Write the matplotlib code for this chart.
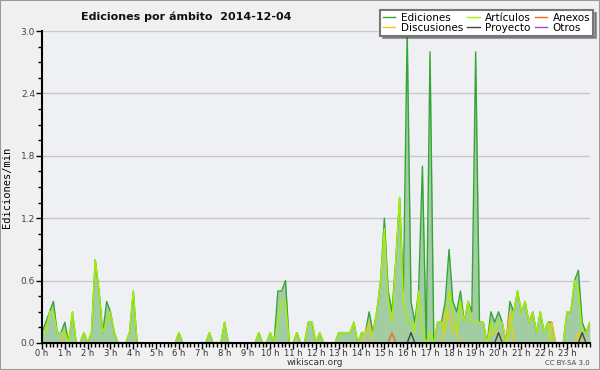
import numpy as np
import matplotlib
matplotlib.use('Agg')
import matplotlib.pyplot as plt
from matplotlib.ticker import MultipleLocator, FixedLocator
from matplotlib.patches import Rectangle

# edits per minute, one value every 10 minutes (0 h .. 24 h)
ediciones = [
    0.1, 0.2, 0.3, 0.4, 0.1, 0.1, 0.2, 0.0, 0.3, 0.0, 0.0, 0.1,
    0.0, 0.1, 0.8, 0.5, 0.1, 0.4, 0.3, 0.1, 0.0, 0.0, 0.0, 0.1,
    0.5, 0.0, 0.0, 0.0, 0.0, 0.0, 0.0, 0.0, 0.0, 0.0, 0.0, 0.0,
    0.1, 0.0, 0.0, 0.0, 0.0, 0.0, 0.0, 0.0, 0.1, 0.0, 0.0, 0.0,
    0.2, 0.0, 0.0, 0.0, 0.0, 0.0, 0.0, 0.0, 0.0, 0.1, 0.0, 0.0,
    0.1, 0.0, 0.5, 0.5, 0.6, 0.0, 0.0, 0.1, 0.0, 0.0, 0.2, 0.2,
    0.0, 0.1, 0.0, 0.0, 0.0, 0.0, 0.1, 0.1, 0.1, 0.1, 0.2, 0.0,
    0.1, 0.1, 0.3, 0.1, 0.3, 0.6, 1.2, 0.5, 0.3, 0.8, 1.4, 0.5,
    3.0, 0.4, 0.2, 0.5, 1.7, 0.0, 2.8, 0.0, 0.2, 0.2, 0.4, 0.9,
    0.4, 0.3, 0.5, 0.2, 0.4, 0.3, 2.8, 0.2, 0.2, 0.0, 0.3, 0.2,
    0.3, 0.2, 0.0, 0.4, 0.3, 0.5, 0.3, 0.4, 0.2, 0.3, 0.1, 0.3,
    0.1, 0.2, 0.2, 0.0, 0.0, 0.0, 0.3, 0.3, 0.6, 0.7, 0.2, 0.1,
    0.2,
]
articulos = [
    0.1, 0.1, 0.3, 0.3, 0.1, 0.1, 0.1, 0.0, 0.3, 0.0, 0.0, 0.1,
    0.0, 0.1, 0.8, 0.5, 0.1, 0.2, 0.3, 0.1, 0.0, 0.0, 0.0, 0.1,
    0.5, 0.0, 0.0, 0.0, 0.0, 0.0, 0.0, 0.0, 0.0, 0.0, 0.0, 0.0,
    0.1, 0.0, 0.0, 0.0, 0.0, 0.0, 0.0, 0.0, 0.1, 0.0, 0.0, 0.0,
    0.2, 0.0, 0.0, 0.0, 0.0, 0.0, 0.0, 0.0, 0.0, 0.1, 0.0, 0.0,
    0.1, 0.0, 0.2, 0.4, 0.4, 0.0, 0.0, 0.1, 0.0, 0.0, 0.2, 0.2,
    0.0, 0.1, 0.0, 0.0, 0.0, 0.0, 0.1, 0.1, 0.1, 0.1, 0.2, 0.0,
    0.1, 0.1, 0.1, 0.1, 0.3, 0.6, 1.1, 0.4, 0.2, 0.8, 1.4, 0.4,
    0.2, 0.2, 0.1, 0.5, 0.1, 0.0, 0.1, 0.0, 0.2, 0.2, 0.1, 0.5,
    0.3, 0.1, 0.4, 0.2, 0.4, 0.2, 0.2, 0.2, 0.2, 0.0, 0.2, 0.1,
    0.2, 0.2, 0.0, 0.1, 0.3, 0.5, 0.3, 0.4, 0.2, 0.3, 0.1, 0.3,
    0.1, 0.2, 0.0, 0.0, 0.0, 0.0, 0.3, 0.3, 0.6, 0.5, 0.1, 0.1,
    0.2,
]
discusiones = [0.0] * 145
for i, v in [(6, 0.1), (85, 0.1), (86, 0.2), (106, 0.3), (107, 0.3), (108, 0.1),
             (109, 0.1), (118, 0.1), (119, 0.1), (120, 0.1), (123, 0.3),
             (134, 0.2), (141, 0.1)]:
    discusiones[i] = v
anexos = [0.0] * 145
anexos[92] = 0.1
proyecto = [0.0] * 145
for i in [97, 120, 142]:
    proyecto[i] = 0.1
otros = [0.0] * 145

hours = np.arange(145) / 6.0
hour_labels = [f'{h} h' for h in range(24)]

fig = plt.figure(figsize=(6, 3.7), dpi=100, facecolor='#f0f0f0')
fig.patches.append(Rectangle((0, 0), 1, 1, transform=fig.transFigure, fill=False,
                             edgecolor='#9a9a9a', linewidth=1.5))
ax = fig.add_axes([0.07, 0.073, 0.913, 0.843])
ax.set_facecolor('#eef0f3')

ax.fill_between(hours, ediciones, color='#a2cda2', linewidth=0)
ax.plot(hours, ediciones, color='#35a535', lw=1, label='Ediciones')
ax.plot(hours, discusiones, color='#f5c518', lw=1, label='Discusiones')
ax.plot(hours, articulos, color='#aaee00', lw=1, label='Artículos')
ax.plot(hours, proyecto, color='#444444', lw=1, label='Proyecto')
ax.plot(hours, anexos, color='#ee6a2a', lw=1, label='Anexos')
ax.plot(hours, otros, color='#9944ee', lw=1, label='Otros')

ax.set_xlim(0, 24)
ax.set_ylim(0, 3.0)
ax.set_yticks([0.0, 0.6, 1.2, 1.8, 2.4, 3.0])
ax.yaxis.set_minor_locator(MultipleLocator(0.15))
ax.xaxis.set_major_locator(FixedLocator(range(24)))
ax.set_xticklabels(hour_labels)
ax.xaxis.set_minor_locator(MultipleLocator(1 / 6))
ax.grid(axis='y', color='#c8c8c8', lw=1)
ax.set_axisbelow(True)
for s in ['top', 'right']:
    ax.spines[s].set_visible(False)
for s in ['left', 'bottom']:
    ax.spines[s].set_linewidth(1.5)
    ax.spines[s].set_zorder(5)
ax.tick_params(axis='y', labelsize=6.5, labelcolor='#444444', length=4, width=1, pad=1)
ax.tick_params(axis='x', labelsize=6, labelcolor='#333333', length=4, width=1, pad=0.5)
ax.tick_params(which='minor', length=3, width=1)
ax.set_ylabel('Ediciones/min', family='DejaVu Sans Mono', fontsize=7.5, labelpad=6)

leg = fig.legend(loc='upper right', bbox_to_anchor=(0.988, 0.972), ncol=3, fontsize=7.5,
                 frameon=True, fancybox=False, shadow=True, handlelength=1.2,
                 handletextpad=0.5, columnspacing=0.4, labelspacing=0.0,
                 borderpad=0.25, borderaxespad=0)
leg.get_frame().set_edgecolor('#777777')
leg.get_frame().set_linewidth(1.5)
for line in leg.get_lines():
    line.set_linewidth(1)

fig.text(0.31, 0.955, 'Ediciones por ámbito  2014-12-04', ha='center', va='center',
         fontsize=8, fontweight='bold', color='#111111')
fig.text(0.525, 0.02, 'wikiscan.org', ha='center', va='center', fontsize=6.5, color='#333333')
fig.text(0.983, 0.02, 'CC BY-SA 3.0', ha='right', va='center', fontsize=5, color='#444444')

fig.savefig('out.png', dpi=100, facecolor=fig.get_facecolor())
